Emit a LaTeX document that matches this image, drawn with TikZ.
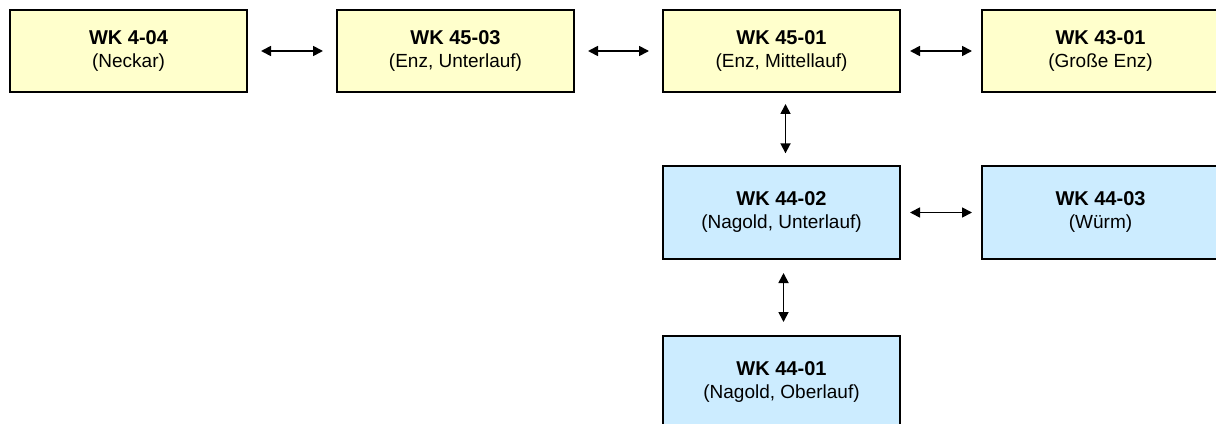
\documentclass[tikz,border=0pt]{standalone}
\usepackage{fontspec}
\setmainfont{Liberation Sans}
\usetikzlibrary{positioning, arrows.meta}
\definecolor{paleyellow}{RGB}{255,255,204}
\definecolor{paleblue}{RGB}{204,236,255}
\def \WK #1{{\bfseries\fontsize{15}{17.25}\selectfont WK #1}}

\begin{document}
\begin{tikzpicture}[
	  wk_style/.style={
	  	rectangle,
	  	draw=black,
	  	line width=1.1pt,
	  	align=center,
	  	text=black,
	  	inner sep=0pt,
	  	outer sep=0pt,
	  	minimum width=177.75pt,
	  	text depth=3pt,
	  	font=\fontsize{14.25}{17.25}\selectfont
	  },
	  upper_style/.style={wk_style, fill=paleyellow, minimum height=61.5pt},
	  lower_style/.style={wk_style, fill=paleblue, minimum height=69.75pt},
	  link/.style={
		  {Triangle[length=7.5pt,width=7.5pt]}-{Triangle[length=7.5pt,width=7.5pt]},
		  line width=1.3pt,
		  shorten >=10.5pt,
		  shorten <=10.5pt
	  },
	  short_link/.style={link, shorten >=7.5pt, shorten <=7.5pt}]
	\useasboundingbox (0,0) rectangle (912pt,-318pt);
	\clip (0,0) rectangle (912pt,-318pt);
	% Upper row
	\node[upper_style, anchor=north west] (neckar) at (7.5pt,-7.5pt) {\WK{4-04}\\(Neckar)};
	\node[upper_style, right=67.5pt of neckar] (enzunter) {\WK{45-03}\\(Enz, Unterlauf)};
	\node[upper_style, right=66.75pt of enzunter] (enzmittel) {\WK{45-01}\\(Enz, Mittellauf)};
	\node[upper_style, right=61.5pt of enzmittel] (grosseenz) {\WK{43-01}\\(Große Enz)};
	% Nagold and Würm
	\node[lower_style, below=55.5pt of enzmittel] (nagoldunter) {\WK{44-02}\\(Nagold, Unterlauf)};
	\node[lower_style, right=61.5pt of nagoldunter] (wuerm) {\WK{44-03}\\(Würm)};
	\node[lower_style, below=57.75pt of nagoldunter] (nagoldober) {\WK{44-01}\\(Nagold, Oberlauf)};
	% Links
	\draw[link] (neckar) -- (enzunter);
	\draw[link] (enzunter) -- (enzmittel);
	\draw[short_link] (enzmittel) -- (grosseenz);
	\draw[link, shorten <=9pt, shorten >=9.5pt] ([xshift=3pt]enzmittel.south) -- ([xshift=3pt]nagoldunter.north);
	\draw[short_link] (nagoldunter) -- (wuerm);
	\draw[link] ([xshift=1.5pt]nagoldunter.south) -- ([xshift=1.5pt]nagoldober.north);
\end{tikzpicture}
\end{document}
